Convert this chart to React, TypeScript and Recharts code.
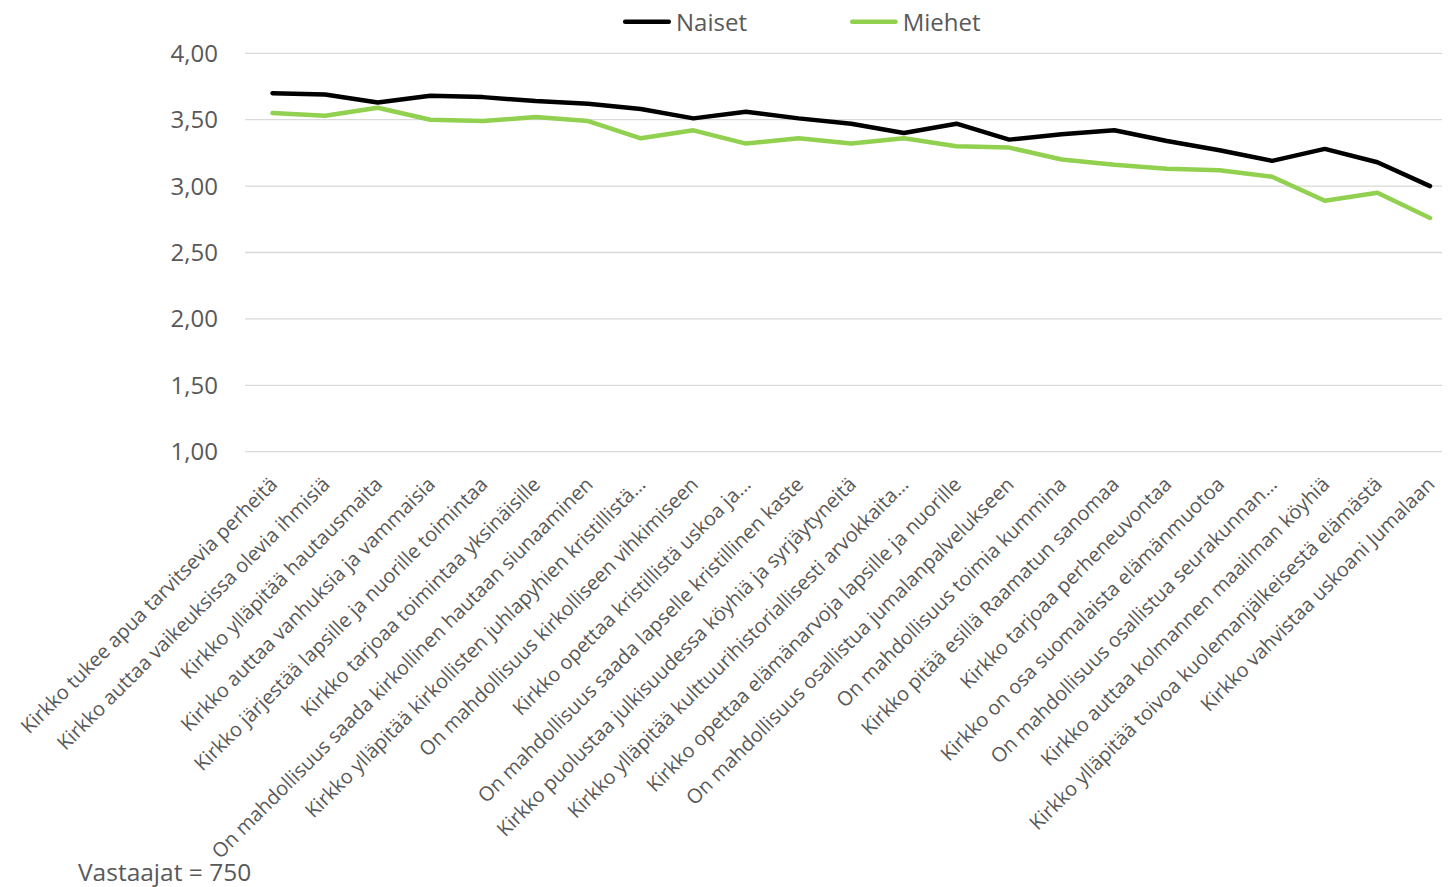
import React from 'react';
import { LineChart, Line, XAxis, YAxis, CartesianGrid, Legend } from 'recharts';

const categories: string[] = [
  'Kirkko tukee apua tarvitsevia perheitä',
  'Kirkko auttaa vaikeuksissa olevia ihmisiä',
  'Kirkko ylläpitää hautausmaita',
  'Kirkko auttaa vanhuksia ja vammaisia',
  'Kirkko järjestää lapsille ja nuorille toimintaa',
  'Kirkko tarjoaa toimintaa yksinäisille',
  'On mahdollisuus saada kirkollinen hautaan siunaaminen',
  'Kirkko ylläpitää kirkollisten juhlapyhien kristillistä…',
  'On mahdollisuus kirkolliseen vihkimiseen',
  'Kirkko opettaa kristillistä uskoa ja…',
  'On mahdollisuus saada lapselle kristillinen kaste',
  'Kirkko puolustaa julkisuudessa köyhiä ja syrjäytyneitä',
  'Kirkko ylläpitää kulttuurihistoriallisesti arvokkaita…',
  'Kirkko opettaa elämänarvoja lapsille ja nuorille',
  'On mahdollisuus osallistua jumalanpalvelukseen',
  'On mahdollisuus toimia kummina',
  'Kirkko pitää esillä Raamatun sanomaa',
  'Kirkko tarjoaa perheneuvontaa',
  'Kirkko on osa suomalaista elämänmuotoa',
  'On mahdollisuus osallistua seurakunnan…',
  'Kirkko auttaa kolmannen maailman köyhiä',
  'Kirkko ylläpitää toivoa kuolemanjälkeisestä elämästä',
  'Kirkko vahvistaa uskoani Jumalaan',
];

const naiset: number[] = [3.70, 3.69, 3.63, 3.68, 3.67, 3.64, 3.62, 3.58, 3.51, 3.56, 3.51, 3.47, 3.40, 3.47, 3.35, 3.39, 3.42, 3.34, 3.27, 3.19, 3.28, 3.18, 3.00];
const miehet: number[] = [3.55, 3.53, 3.59, 3.50, 3.49, 3.52, 3.49, 3.36, 3.42, 3.32, 3.36, 3.32, 3.36, 3.30, 3.29, 3.20, 3.16, 3.13, 3.12, 3.07, 2.89, 2.95, 2.76];

const yTicks: number[] = [1, 1.5, 2, 2.5, 3, 3.5, 4];

const seriesNames = { naiset: 'Naiset', miehet: 'Miehet' };

const data = categories.map((c, i) => ({ name: c, naiset: naiset[i], miehet: miehet[i] }));

const FONT = '"Open Sans", "Noto Sans", sans-serif';
const TEXT = '#595959';
const BLACK = '#000000';
const GREEN = '#92D050';

const CatTick = (props: any) => {
  const { x, y, payload } = props;
  return (
    <g transform={`translate(${x + 6},${y + 34})`}>
      <text
        x={0}
        y={0}
        textAnchor="end"
        transform="rotate(-45)"
        fill={TEXT}
        fontSize={20}
        fontFamily={FONT}
      >
        {payload.value}
      </text>
    </g>
  );
};

const LegendContent = () => (
  <div style={{ position: 'relative', height: 0, width: 1442 }}>
    <svg width={1442} height={30} style={{ position: 'absolute', left: 0, top: 0, overflow: 'visible' }}>
      <line x1={617.2} y1={13.7} x2={660.8} y2={13.7} stroke={BLACK} strokeWidth={4.5} strokeLinecap="round" />
      <text x={668} y={22.7} fontSize={24} fontFamily={FONT} fill={TEXT}>{seriesNames.naiset}</text>
      <line x1={844.2} y1={13.7} x2={887.5} y2={13.7} stroke={GREEN} strokeWidth={4.5} strokeLinecap="round" />
      <text x={894.7} y={22.7} fontSize={24} fontFamily={FONT} fill={TEXT}>{seriesNames.miehet}</text>
    </svg>
  </div>
);

export default function App() {
  return (
    <div style={{ position: 'relative', width: 1442, height: 879 }}>
      <LineChart
        width={1442}
        height={879}
        data={data}
        margin={{ top: 45.3, right: 0, bottom: 0, left: 0 }}
      >
        <CartesianGrid horizontal={true} vertical={false} stroke="#D9D9D9" strokeWidth={1.3} />
        <XAxis
          dataKey="name"
          interval={0}
          tick={<CatTick />}
          tickLine={false}
          axisLine={false}
          tickSize={0}
          tickMargin={0}
          height={435.3}
          padding={{ left: 27.5, right: 20 }}
        />
        <YAxis
          domain={[1, 4]}
          ticks={yTicks}
          width={237}
          axisLine={false}
          tickLine={false}
          tickSize={0}
          tickMargin={27}
          tickFormatter={(v: number) => v.toFixed(2).replace('.', ',')}
          tick={{ fill: TEXT, fontSize: 24, fontFamily: FONT }}
        />
        <Legend
          verticalAlign="top"
          content={<LegendContent />}
          wrapperStyle={{ left: 0, top: 0, width: 1442, height: 0 }}
        />
        <Line
          type="linear"
          dataKey="naiset"
          name={seriesNames.naiset}
          stroke={BLACK}
          strokeWidth={4.5}
          dot={false}
          isAnimationActive={false}
          strokeLinecap="round"
          strokeLinejoin="round"
        />
        <Line
          type="linear"
          dataKey="miehet"
          name={seriesNames.miehet}
          stroke={GREEN}
          strokeWidth={4.5}
          dot={false}
          isAnimationActive={false}
          strokeLinecap="round"
          strokeLinejoin="round"
        />
      </LineChart>
      <div
        style={{
          position: 'absolute',
          left: 70,
          top: 851.9,
          fontSize: 24.5,
          lineHeight: '24.5px',
          fontFamily: FONT,
          color: TEXT,
          whiteSpace: 'nowrap',
        }}
      >
        Vastaajat = 750
      </div>
    </div>
  );
}
